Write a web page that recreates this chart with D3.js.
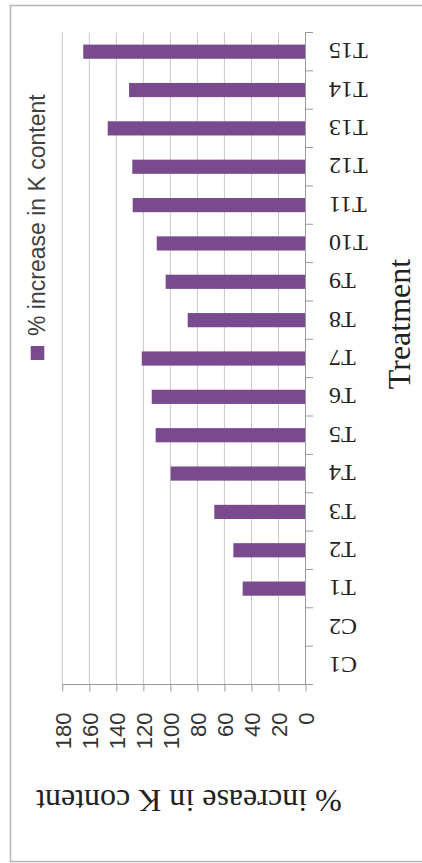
<!DOCTYPE html>
<html>
<head>
<meta charset="utf-8">
<script src="https://cdn.jsdelivr.net/npm/d3@7/dist/d3.min.js"></script>
<style>
  html, body { margin: 0; padding: 0; background: #ffffff; }
  svg { display: block; }
</style>
</head>
<body>
<svg id="chart" width="422" height="863"></svg>
<script>
// ---- data ----
const categories = ["C1","C2","T1","T2","T3","T4","T5","T6","T7","T8","T9","T10","T11","T12","T13","T14","T15"];
const kIncrease  = [0, 0, 46.5, 53.4, 67.5, 99.8, 110.9, 113.8, 121.2, 87.2, 103.5, 110.1, 127.9, 128.2, 146.4, 130.6, 164.5];
const valueTicks = [0, 20, 40, 60, 80, 100, 120, 140, 160, 180];
const seriesName = "% increase in K content";
const axisTitleValue = "% increase in K content";
const axisTitleCategory = "Treatment";

// ---- layout (the chart is shown turned a quarter turn) ----
const svg = d3.select("#chart");
const W = 422, H = 863;
const plotTop = 32.5, plotBottom = 684.5;
const zeroX = 305.5, maxX = 62.3;
const serif = "'Liberation Serif', 'Times New Roman', serif";
const sans = "'Liberation Sans', Arial, sans-serif";

svg.append("rect").attr("x", 0).attr("y", 0).attr("width", W).attr("height", H).attr("fill", "#ffffff");
// frame of the figure
svg.append("rect").attr("x", 10.5).attr("y", 5.5).attr("width", W).attr("height", 856)
  .attr("fill", "none").attr("stroke", "#b4b4b4").attr("stroke-width", 1.5);

const x = d3.scaleLinear().domain([0, 180]).range([zeroX, maxX]);
const y = d3.scaleBand().domain(categories).range([plotBottom, plotTop]).padding(0);

// gridlines
svg.append("g").selectAll("line").data(valueTicks.filter(v => v !== 0)).join("line")
  .attr("x1", d => x(d)).attr("x2", d => x(d))
  .attr("y1", plotTop).attr("y2", plotBottom)
  .attr("stroke", "#c8c8c8").attr("stroke-width", 1);

// bars
const bw = y.bandwidth();
const barH = bw * 0.37;
svg.append("g").selectAll("rect").data(categories.map((c, i) => ({c, v: kIncrease[i]})).filter(d => d.v > 0)).join("rect")
  .attr("x", d => x(d.v))
  .attr("width", d => x(0) - x(d.v))
  .attr("y", d => y(d.c) + (bw - barH) / 2)
  .attr("height", barH)
  .attr("fill", "#7a4a8e");

// category axis (at value 0)
const catAxis = svg.append("g");
catAxis.append("line").attr("x1", x(0)).attr("x2", x(0)).attr("y1", plotTop).attr("y2", plotBottom)
  .attr("stroke", "#9a9a9a").attr("stroke-width", 1);
const boundaries = categories.map(c => y(c)).concat([y(categories[0]) + bw]);
catAxis.selectAll("line.tick").data(boundaries).join("line").attr("class", "tick")
  .attr("x1", x(0)).attr("x2", x(0) + 7.5)
  .attr("y1", d => d).attr("y2", d => d)
  .attr("stroke", "#9a9a9a").attr("stroke-width", 1);
catAxis.selectAll("text").data(categories).join("text")
  .attr("transform", d => `translate(${x(0) + 23.5},${y(d) + bw / 2}) rotate(180)`)
  .attr("text-anchor", "end").attr("dy", "0.35em")
  .attr("font-family", serif).attr("font-size", 24).attr("fill", "#222")
  .text(d => d);

// value axis
const valAxis = svg.append("g").attr("transform", `translate(0,${plotBottom})`)
  .call(d3.axisBottom(x).tickValues(valueTicks).tickSizeInner(7).tickSizeOuter(0).tickFormat(d3.format("d")));
valAxis.select(".domain").remove();
valAxis.append("line").attr("x1", x(180)).attr("x2", x(0) + 7.5).attr("y1", 0).attr("y2", 0)
  .attr("stroke", "#9a9a9a").attr("stroke-width", 1.2);
valAxis.selectAll(".tick line").attr("stroke", "#9a9a9a");
valAxis.selectAll(".tick text")
  .attr("x", 0).attr("y", 0).attr("dy", "0.35em")
  .attr("transform", "translate(0,28) rotate(-90)")
  .attr("text-anchor", "end")
  .attr("font-family", sans).attr("font-size", 22).attr("fill", "#333");

// value axis title (upside-down, below)
svg.append("text")
  .attr("transform", `translate(${(x(0) + x(180)) / 2 + 5},790) rotate(180)`)
  .attr("text-anchor", "middle")
  .attr("font-family", serif).attr("font-size", 32).attr("fill", "#222")
  .text(axisTitleValue);

// category axis title
svg.append("text")
  .attr("transform", `translate(410,324) rotate(-90)`)
  .attr("text-anchor", "middle")
  .attr("font-family", serif).attr("font-size", 32).attr("fill", "#222")
  .text(axisTitleCategory);

// legend
const leg = svg.append("g");
leg.append("rect").attr("x", 30.7).attr("y", 346).attr("width", 13.6).attr("height", 14)
  .attr("fill", "#7a4a8e");
leg.append("text")
  .attr("transform", "translate(45,336) rotate(-90)")
  .attr("text-anchor", "start")
  .attr("font-family", sans).attr("font-size", 23).attr("fill", "#404040")
  .text(seriesName);
</script>
</body>
</html>
